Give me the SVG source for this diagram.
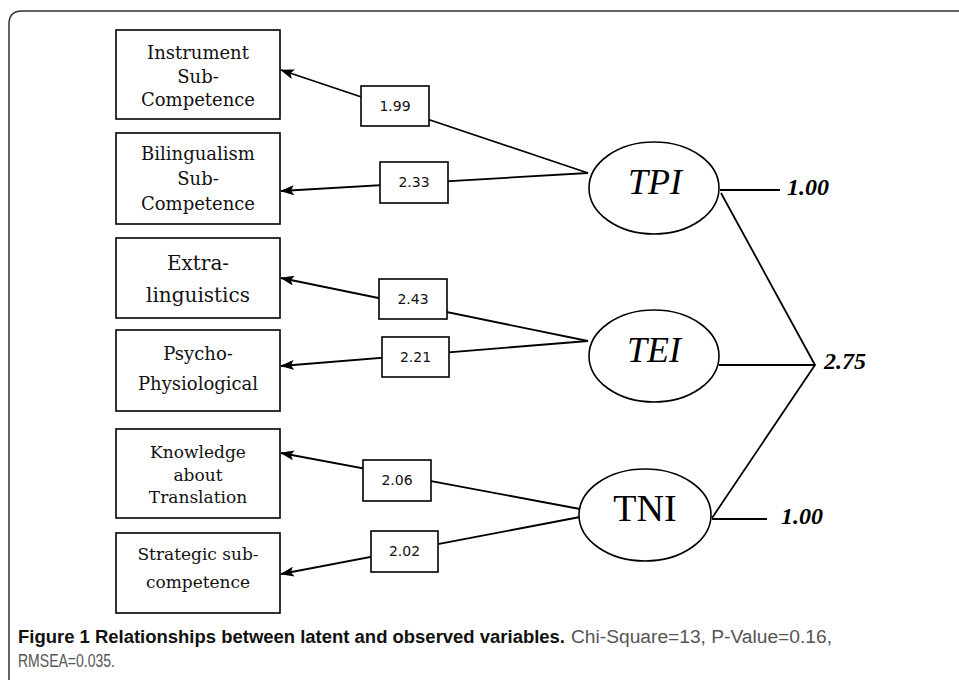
<svg xmlns="http://www.w3.org/2000/svg" width="959" height="680" viewBox="0 0 959 680">
<style>
.box{fill:#fff;stroke:#000;stroke-width:1.6}
.obs{font-family:"DejaVu Serif",serif;font-size:18px;text-anchor:middle;fill:#111}
.lat{fill:#fff;stroke:#000;stroke-width:1.6}
.lt{font-family:"Liberation Serif",serif;font-size:36px;text-anchor:middle;fill:#000}
.con{stroke:#000;stroke-width:1.8;fill:none}
.lbl{fill:#fff;stroke:#000;stroke-width:1.6}
.lbt{font-family:"DejaVu Sans",sans-serif;font-size:14px;text-anchor:middle;fill:#111}
.val{font-family:"Liberation Serif",serif;font-size:24px;font-style:italic;font-weight:bold;fill:#000}
.cap{font-family:"Liberation Sans",sans-serif;font-size:18px}
</style>
<defs>
<marker id="ah" markerUnits="userSpaceOnUse" markerWidth="14" markerHeight="10" refX="13" refY="5" orient="auto">
<path d="M0,0 L14,5 L0,10 L3,5 Z" fill="#000"/>
</marker>
</defs>
<rect width="959" height="680" fill="#fff"/>
<path d="M9,680 L9,24 Q9,11 22,11 L959,11" fill="none" stroke="#333" stroke-width="1.5"/>

<g id="connectors">
<line class="con" x1="588" y1="173" x2="281" y2="70" marker-end="url(#ah)"/>
<line class="con" x1="588" y1="173" x2="281" y2="191" marker-end="url(#ah)"/>
<line class="con" x1="588" y1="341" x2="281" y2="278" marker-end="url(#ah)"/>
<line class="con" x1="588" y1="341" x2="281" y2="366" marker-end="url(#ah)"/>
<line class="con" x1="580" y1="509" x2="281" y2="453" marker-end="url(#ah)"/>
<line class="con" x1="580" y1="517" x2="281" y2="574" marker-end="url(#ah)"/>
<line class="con" x1="720" y1="190" x2="780" y2="190"/>
<polyline class="con" points="721,193 815,365 712,518"/>
<line class="con" x1="719" y1="365" x2="815" y2="365"/>
<line class="con" x1="712" y1="519" x2="767" y2="519"/>
<g id="l199"><rect class="lbl" x="361" y="86" width="68" height="40"/><text class="lbt" x="395" y="111">1.99</text></g>
<g id="l233"><rect class="lbl" x="380" y="162" width="68" height="41"/><text class="lbt" x="414" y="187">2.33</text></g>
<g id="l243"><rect class="lbl" x="379" y="279" width="68" height="40"/><text class="lbt" x="413" y="304">2.43</text></g>
<g id="l221"><rect class="lbl" x="382" y="337" width="67" height="40"/><text class="lbt" x="415.5" y="362">2.21</text></g>
<g id="l206"><rect class="lbl" x="363" y="460" width="68" height="41"/><text class="lbt" x="397" y="485">2.06</text></g>
<g id="l202"><rect class="lbl" x="371" y="531" width="67" height="41"/><text class="lbt" x="404.5" y="556">2.02</text></g>
<text class="val" x="787" y="195">1.00</text>
<text class="val" x="824" y="369">2.75</text>
<text class="val" x="781" y="524">1.00</text>
</g>

<g id="instrument"><rect class="box" x="116" y="30" width="164" height="89"/>
<text class="obs" x="198" y="59">Instrument</text><text class="obs" x="198" y="83">Sub-</text><text class="obs" x="198" y="106">Competence</text></g>
<g id="bilingualism"><rect class="box" x="116" y="133" width="164" height="91"/>
<text class="obs" x="198" y="160">Bilingualism</text><text class="obs" x="198" y="185">Sub-</text><text class="obs" x="198" y="210">Competence</text></g>
<g id="extra"><rect class="box" x="116" y="238" width="164" height="80"/>
<text class="obs" x="198" y="270" style="font-size:20px">Extra-</text><text class="obs" x="198" y="302" style="font-size:20px">linguistics</text></g>
<g id="psycho"><rect class="box" x="116" y="330" width="164" height="81"/>
<text class="obs" x="198" y="360">Psycho-</text><text class="obs" x="198" y="390">Physiological</text></g>
<g id="knowledge"><rect class="box" x="116" y="429" width="164" height="89"/>
<text class="obs" x="198" y="458" style="font-size:17px">Knowledge</text><text class="obs" x="198" y="481" style="font-size:17px">about</text><text class="obs" x="198" y="503" style="font-size:17px">Translation</text></g>
<g id="strategic"><rect class="box" x="116" y="533" width="164" height="80"/>
<text class="obs" x="198" y="560" style="font-size:17px">Strategic sub-</text><text class="obs" x="198" y="588" style="font-size:17px">competence</text></g>

<g id="TPI"><ellipse class="lat" cx="654" cy="188" rx="65" ry="46"/><text class="lt" x="655" y="194" font-style="italic">TPI</text></g>
<g id="TEI"><ellipse class="lat" cx="654" cy="356" rx="65" ry="46"/><text class="lt" x="654" y="362" font-style="italic">TEI</text></g>
<g id="TNI"><ellipse class="lat" cx="645" cy="515" rx="66" ry="46"/><text class="lt" x="645" y="521" style="font-size:38px">TNI</text></g>

<g id="caption">
<text class="cap" x="18" y="643" font-weight="bold" fill="#111" textLength="547" lengthAdjust="spacingAndGlyphs">Figure 1 Relationships between latent and observed variables.</text>
<text class="cap" x="571" y="643" fill="#555" textLength="261" lengthAdjust="spacingAndGlyphs">Chi-Square=13, P-Value=0.16,</text>
<text class="cap" x="18" y="667" fill="#555" textLength="97" lengthAdjust="spacingAndGlyphs">RMSEA=0.035.</text>
</g>
</svg>
